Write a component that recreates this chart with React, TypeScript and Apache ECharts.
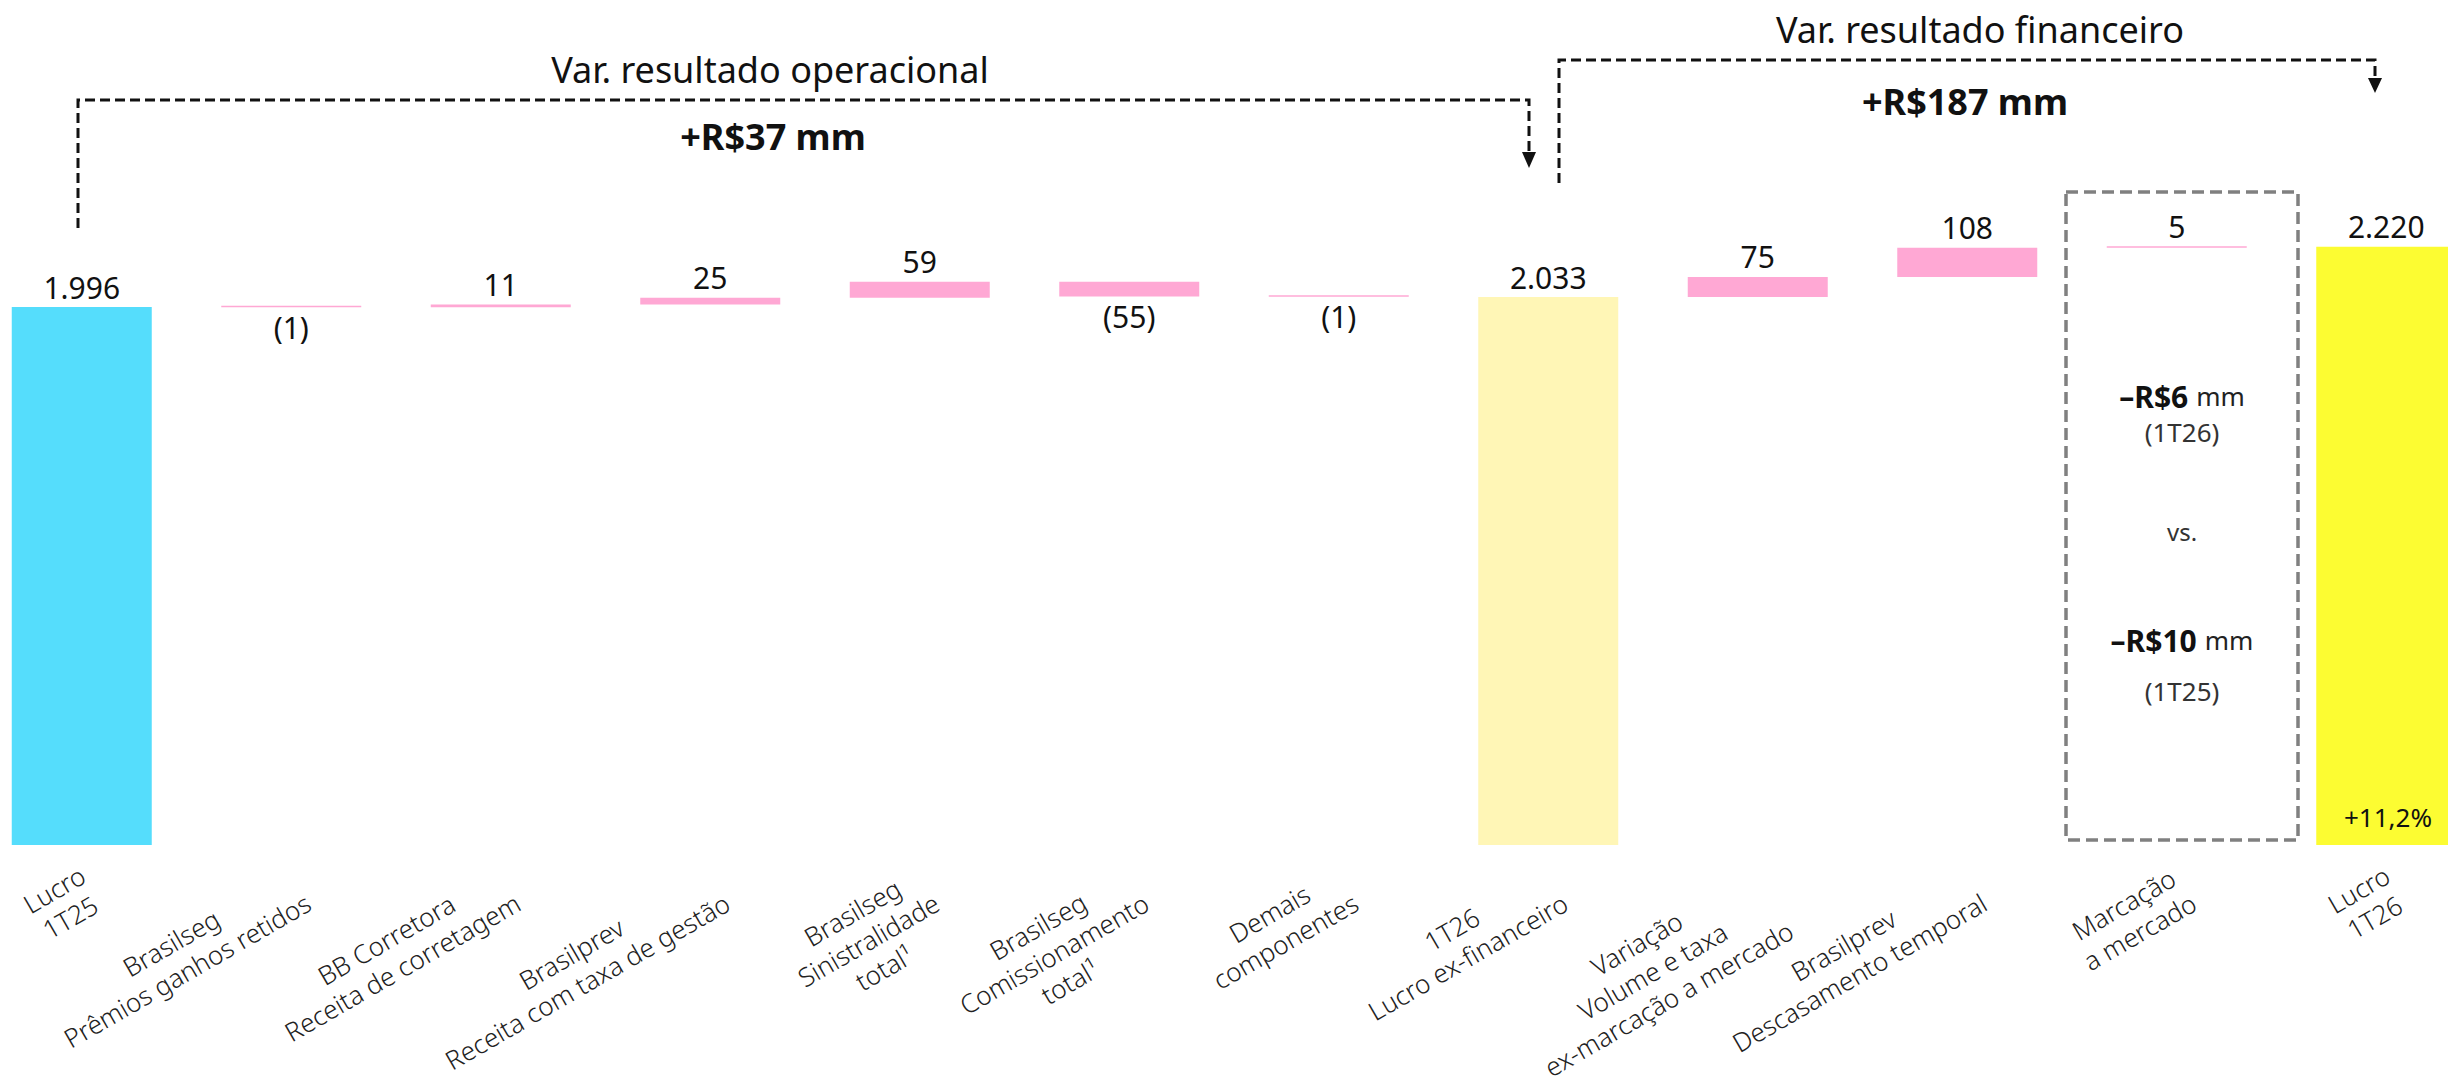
import React, { useEffect, useRef } from "react";
import * as echarts from "echarts";

// ---- Data ----
const categories: string[] = [
  "Lucro\n1T25",
  "Brasilseg\nPrêmios ganhos retidos",
  "BB Corretora\nReceita de corretagem",
  "Brasilprev\nReceita com taxa de gestão",
  "Brasilseg\nSinistralidade\ntotal¹",
  "Brasilseg\nComissionamento\ntotal¹",
  "Demais\ncomponentes",
  "1T26\nLucro ex-financeiro",
  "Variação\nVolume e taxa\nex-marcação a mercado",
  "Brasilprev\nDescasamento temporal",
  "Marcação\na mercado",
  "Lucro\n1T26",
];
const totals: (number | null)[] = [1996, null, null, null, null, null, null, 2033, null, null, null, 2220];
const deltas: (number | null)[] = [null, -1, 11, 25, 59, -55, -1, null, 75, 108, 5, null];

const titleOperational = "Var. resultado operacional";
const titleFinancial = "Var. resultado financeiro";
const summaryOperational = "+R$37 mm";
const summaryFinancial = "+R$187 mm";
const mtmCurrent = ["–R$6", "mm", "(1T26)"];
const mtmVs = "vs.";
const mtmPrevious = ["–R$10", "mm", "(1T25)"];
const growthLabel = "+11,2%";

// ---- Styles ----
const FONT = "Noto Sans";
const totalColors: Record<number, string> = { 0: "#55DDFC", 7: "#FFF6B6", 11: "#FCFC32" };
const deltaColor = "#FFA8D4";

function fmt(v: number): string {
  return String(v).replace(/\B(?=(\d{3})+(?!\d))/g, ".");
}

export default function App() {
  const ref = useRef<HTMLDivElement>(null);

  useEffect(() => {
    if (!ref.current) return;
    const chart = echarts.init(ref.current, null, { renderer: "svg" });

    const base: any[] = [];
    const bars: any[] = [];
    let running = 0;
    categories.forEach((_, i) => {
      const t = totals[i];
      if (t != null) {
        running = t;
        base.push("-");
        bars.push("-");
      } else {
        const d = deltas[i] as number;
        const next = running + d;
        base.push(Math.min(running, next));
        bars.push({
          value: Math.abs(d),
          label: {
            position: d < 0 ? "bottom" : "top",
            formatter: d < 0 ? `(${-d})` : `${d}`,
          },
        });
        running = next;
      }
    });
    const totalData = totals.map((v, i) =>
      v == null ? "-" : { value: v, itemStyle: { color: totalColors[i] } }
    );

    const valueLabel = {
      show: true,
      fontFamily: FONT,
      fontSize: 30,
      color: "#111",
      distance: 5,
    };

    const boxX = 2182;
    const mtmRich = {
      b: { fontFamily: FONT, fontSize: 30, fontWeight: "bold", fill: "#111" },
      m: { fontFamily: FONT, fontSize: 26, fill: "#222", padding: [0, 0, 0, 8] },
    };
    const centered = { align: "center", verticalAlign: "middle" };

    chart.setOption({
      animation: false,
      textStyle: { fontFamily: FONT },
      grid: {
        left: -23,
        width: 2514,
        top: 36.5,
        height: 808.5,
        containLabel: false,
        outerBoundsMode: "none",
      },
      xAxis: {
        type: "category",
        data: categories,
        axisLine: { show: false },
        axisTick: { show: false },
        axisLabel: {
          interval: 0,
          rotate: 30,
          verticalAlign: "top",
          margin: 10,
          padding: [0, 8, 0, 0],
          fontFamily: FONT,
          fontSize: 26,
          fontWeight: 300,
          lineHeight: 32,
          color: "#222",
          formatter: (val: string) =>
            val
              .split("\n")
              .map((l) => `{c|${l}}`)
              .join("\n"),
          rich: {
            c: {
              align: "center",
              fontFamily: FONT,
              fontSize: 26,
              fontWeight: 300,
              lineHeight: 32,
              color: "#222",
            },
          },
        },
      },
      yAxis: {
        type: "value",
        min: 0,
        max: 3000,
        show: false,
        splitLine: { show: false },
      },
      series: [
        {
          name: "base",
          type: "bar",
          stack: "w",
          barWidth: 140,
          itemStyle: { color: "transparent" },
          emphasis: { disabled: true },
          data: base,
        },
        {
          name: "delta",
          type: "bar",
          stack: "w",
          barWidth: 140,
          barMinHeight: 1.5,
          itemStyle: { color: deltaColor },
          label: { ...valueLabel },
          data: bars,
        },
        {
          name: "total",
          type: "bar",
          stack: "w",
          barWidth: 140,
          label: {
            ...valueLabel,
            position: "top",
            formatter: (p: any) => fmt(p.value),
          },
          data: totalData,
        },
      ],
      graphic: [
        {
          type: "text",
          x: 770,
          y: 69,
          z: 50,
          style: { text: titleOperational, fontFamily: FONT, fontSize: 36, fill: "#111", ...centered },
        },
        {
          type: "text",
          x: 1980,
          y: 29,
          z: 50,
          style: { text: titleFinancial, fontFamily: FONT, fontSize: 36, fill: "#111", ...centered },
        },
        {
          type: "text",
          x: 773,
          y: 136,
          z: 50,
          style: {
            text: summaryOperational,
            fontFamily: FONT,
            fontSize: 36,
            fontWeight: "bold",
            fill: "#111",
            ...centered,
          },
        },
        {
          type: "text",
          x: 1965,
          y: 101,
          z: 50,
          style: {
            text: summaryFinancial,
            fontFamily: FONT,
            fontSize: 36,
            fontWeight: "bold",
            fill: "#111",
            ...centered,
          },
        },
        {
          type: "polyline",
          z: 50,
          shape: { points: [[78, 228], [78, 100], [1529, 100], [1529, 154]] },
          style: { stroke: "#111", lineWidth: 3, lineDash: [10, 5], fill: null },
        },
        {
          type: "polygon",
          z: 50,
          shape: { points: [[1522, 152], [1536, 152], [1529, 168]] },
          style: { fill: "#111" },
        },
        {
          type: "polyline",
          z: 50,
          shape: { points: [[1559, 183], [1559, 60], [2375, 60], [2375, 80]] },
          style: { stroke: "#111", lineWidth: 3, lineDash: [10, 5], fill: null },
        },
        {
          type: "polygon",
          z: 50,
          shape: { points: [[2368, 78], [2382, 78], [2375, 93]] },
          style: { fill: "#111" },
        },
        {
          type: "rect",
          z: 50,
          shape: { x: 2066, y: 192, width: 232, height: 648 },
          style: { fill: "none", stroke: "#808080", lineWidth: 3.5, lineDash: [12, 6] },
        },
        {
          type: "text",
          x: boxX,
          y: 396,
          z: 50,
          style: { text: `{b|${mtmCurrent[0]}}{m|${mtmCurrent[1]}}`, rich: mtmRich, ...centered },
        },
        {
          type: "text",
          x: boxX,
          y: 432,
          z: 50,
          style: { text: mtmCurrent[2], fontFamily: FONT, fontSize: 26, fill: "#333", ...centered },
        },
        {
          type: "text",
          x: boxX,
          y: 531,
          z: 50,
          style: { text: mtmVs, fontFamily: FONT, fontSize: 24, fill: "#333", ...centered },
        },
        {
          type: "text",
          x: boxX,
          y: 640,
          z: 50,
          style: { text: `{b|${mtmPrevious[0]}}{m|${mtmPrevious[1]}}`, rich: mtmRich, ...centered },
        },
        {
          type: "text",
          x: boxX,
          y: 691,
          z: 50,
          style: { text: mtmPrevious[2], fontFamily: FONT, fontSize: 26, fill: "#333", ...centered },
        },
        {
          type: "text",
          x: 2388,
          y: 817,
          z: 50,
          style: { text: growthLabel, fontFamily: FONT, fontSize: 26, fill: "#111", ...centered },
        },
      ],
    });

    return () => chart.dispose();
  }, []);

  return (
    <div
      ref={ref}
      style={{ position: "fixed", left: 0, top: 0, width: 2448, height: 1085, background: "#fff" }}
    />
  );
}
